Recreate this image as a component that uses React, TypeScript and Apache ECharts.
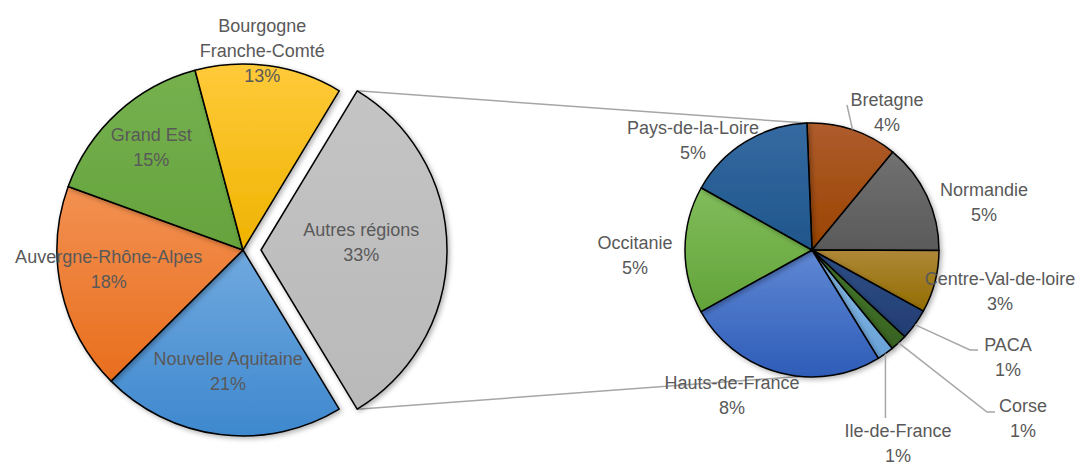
import React, { useEffect, useRef } from "react";
import * as echarts from "echarts";

// ---------- data ----------
const mainNames = ["Nouvelle Aquitaine", "Auvergne-Rhône-Alpes", "Grand Est", "Bourgogne Franche-Comté"];
const mainValues = [21.2, 18.0, 15.3, 12.8];
const otherGroupName = "Autres régions";
const detailNames = [
  "Bretagne",
  "Normandie",
  "Centre-Val-de-loire",
  "PACA",
  "Corse",
  "Ile-de-France",
  "Hauts-de-France",
  "Occitanie",
  "Pays-de-la-Loire",
];
const detailValues = [3.8, 4.6, 2.6, 1.3, 0.7, 0.7, 8.4, 5.3, 5.3];

// ---------- styles / layout ----------
const FONT = "'Liberation Sans', Arial, sans-serif";
const TEXT = "#595959";
const LINE = "#A6A6A6";
const deg = Math.PI / 180;

const leftPie = { cx: 243, cy: 250, r: 186, explode: 18 };
const rightPie = { cx: 812, cy: 250, r: 127, startCW: -2.3, bottomLinkCW: 185.4 };

const mainColors = [
  ["#C4C4C4", "#B9B9B9"],
  ["#70A9DF", "#3E88CE"],
  ["#F39152", "#E86E1D"],
  ["#75B14E", "#66A33D"],
  ["#FFCA3A", "#EFB300"],
];
const detailColors = [
  ["#AE5C2D", "#9B4400"],
  ["#717171", "#5A5A5A"],
  ["#AE8838", "#936D00"],
  ["#2F4E87", "#223E72"],
  ["#477B30", "#37611F"],
  ["#88BAE6", "#69A2D8"],
  ["#6088D5", "#2E5CB7"],
  ["#81BD5B", "#63A339"],
  ["#356AA1", "#1E568B"],
];

// label placement: left pie = [radius factor, angle tweak]
const mainLabelPolar = [
  [0.54, -4],
  [0.656, 0],
  [0.73, 4],
  [0.74, 0.7],
  [1.075, -2.6],
];
const mainLabelText = ["Autres régions", "Nouvelle Aquitaine", "Auvergne-Rhône-Alpes", "Grand Est", "Bourgogne\nFranche-Comté"];
// right pie label centers, offsets from the pie center
const detailLabelOffset = [
  [75, -138],
  [172, -48],
  [188, 41],
  [196, 107],
  [211, 168],
  [86, 193],
  [-80, 145],
  [-177, 5],
  [-119, -110],
];
// leader lines (after the slice-edge point), offsets from the pie center
const detailLeaders: Record<number, number[][]> = {
  0: [[35, -145]],
  3: [[158, 100], [166, 100]],
  4: [[175, 162], [183, 162]],
  5: [[NaN, 168]],
};

function polar(cx: number, cy: number, r: number, aCW: number) {
  return [cx + r * Math.sin(aCW * deg), cy - r * Math.cos(aCW * deg)];
}
function grad(c: string[]) {
  return new echarts.graphic.LinearGradient(0, 0, 0, 1, [
    { offset: 0, color: c[0] },
    { offset: 1, color: c[1] },
  ]);
}

export default function App() {
  const ref = useRef<HTMLDivElement>(null);
  useEffect(() => {
    if (!ref.current) return;
    const chart = echarts.init(ref.current, undefined, { renderer: "svg" });

    const groupValue = detailValues.reduce((a, b) => a + b, 0);
    const leftValues = [groupValue, ...mainValues];
    const leftNames = [otherGroupName, ...mainNames];
    const leftTotal = leftValues.reduce((a, b) => a + b, 0);
    const leftDegs = leftValues.map((v) => (v / leftTotal) * 360);
    const leftStartCW = 90 - leftDegs[0] / 2;
    const leftMids: number[] = [];
    let acc = leftStartCW;
    leftDegs.forEach((d) => {
      leftMids.push(acc + d / 2);
      acc += d;
    });

    const rightDegs = detailValues.map((v) => (v / groupValue) * 360);
    const rightMids: number[] = [];
    acc = rightPie.startCW;
    rightDegs.forEach((d) => {
      rightMids.push(acc + d / 2);
      acc += d;
    });

    const shadow = {
      shadowBlur: 5,
      shadowOffsetX: 2,
      shadowOffsetY: 2,
      shadowColor: "rgba(0,0,0,0.3)",
    };
    const labelBase = {
      show: true,
      position: "inside",
      color: TEXT,
      fontSize: 18,
      lineHeight: 25,
      fontFamily: FONT,
    };
    const hidden = {
      itemStyle: { color: "rgba(0,0,0,0)", borderWidth: 0, shadowBlur: 0, shadowColor: "rgba(0,0,0,0)" },
      label: { show: false },
    };

    const leftData = (explodedPart: boolean) =>
      leftValues.map((v, i) => {
        const visible = explodedPart ? i === 0 : i !== 0;
        if (!visible) return { name: leftNames[i], value: v, ...hidden };
        return {
          name: leftNames[i],
          value: v,
          itemStyle: { color: grad(mainColors[i]), borderColor: "#000", borderWidth: 1.5, ...shadow },
        };
      });

    const leftLabelLayout = (explodedPart: boolean) => (p: any) => {
      const i = p.dataIndex;
      const cx = explodedPart ? leftPie.cx + leftPie.explode : leftPie.cx;
      const [f, tw] = mainLabelPolar[i];
      const [x, y] = polar(cx, leftPie.cy, leftPie.r * f, leftMids[i] + tw);
      return { x, y, align: "center", verticalAlign: "middle" };
    };

    const leftSeries = (explodedPart: boolean) => ({
      type: "pie",
      silent: true,
      center: [explodedPart ? leftPie.cx + leftPie.explode : leftPie.cx, leftPie.cy],
      radius: leftPie.r,
      startAngle: leftDegs[0] / 2,
      clockwise: true,
      avoidLabelOverlap: false,
      label: {
        ...labelBase,
        formatter: (p: any) => `${mainLabelText[p.dataIndex]}\n${Math.round(p.value)}%`,
      },
      labelLine: { show: false },
      labelLayout: leftLabelLayout(explodedPart),
      data: leftData(explodedPart),
      z: 2,
    });

    const rightSeries = {
      type: "pie",
      silent: true,
      center: [rightPie.cx, rightPie.cy],
      radius: rightPie.r,
      startAngle: 90 - rightPie.startCW,
      clockwise: true,
      avoidLabelOverlap: false,
      label: {
        ...labelBase,
        formatter: (p: any) => `${detailNames[p.dataIndex]}\n${Math.round(p.value)}%`,
      },
      labelLine: { show: false },
      labelLayout: (p: any) => {
        const [dx, dy] = detailLabelOffset[p.dataIndex];
        return { x: rightPie.cx + dx, y: rightPie.cy + dy, align: "center", verticalAlign: "middle" };
      },
      data: detailValues.map((v, i) => ({
        name: detailNames[i],
        value: v,
        itemStyle: { color: grad(detailColors[i]), borderColor: "#000", borderWidth: 1.5, ...shadow },
      })),
      z: 2,
    };

    // connector lines between exploded slice and detail pie
    const exCx = leftPie.cx + leftPie.explode;
    const topA = polar(exCx, leftPie.cy, leftPie.r, leftStartCW);
    const botA = polar(exCx, leftPie.cy, leftPie.r, leftStartCW + leftDegs[0]);
    const topB = polar(rightPie.cx, rightPie.cy, rightPie.r, rightPie.startCW);
    const botB = polar(rightPie.cx, rightPie.cy, rightPie.r, rightPie.bottomLinkCW);

    const graphics: any[] = [
      { type: "line", z: 1, shape: { x1: topA[0], y1: topA[1], x2: topB[0], y2: topB[1] }, style: { stroke: LINE, lineWidth: 1.5 } },
      { type: "line", z: 1, shape: { x1: botA[0], y1: botA[1], x2: botB[0], y2: botB[1] }, style: { stroke: LINE, lineWidth: 1.5 } },
    ];
    Object.keys(detailLeaders).forEach((k) => {
      const i = Number(k);
      const start = polar(rightPie.cx, rightPie.cy, rightPie.r, rightMids[i]);
      const pts = [start];
      detailLeaders[i].forEach(([dx, dy]) => {
        pts.push([isNaN(dx) ? start[0] : rightPie.cx + dx, rightPie.cy + dy]);
      });
      graphics.push({
        type: "polyline",
        z: 5,
        shape: { points: pts },
        style: { stroke: LINE, lineWidth: 1.5, fill: "none" },
      });
    });

    chart.setOption({
      animation: false,
      backgroundColor: "#fff",
      graphic: graphics,
      series: [leftSeries(false), leftSeries(true), rightSeries],
    });
    return () => chart.dispose();
  }, []);

  return (
    <div
      ref={ref}
      style={{ position: "fixed", left: 0, top: 0, width: "1083px", height: "468px" }}
    />
  );
}
